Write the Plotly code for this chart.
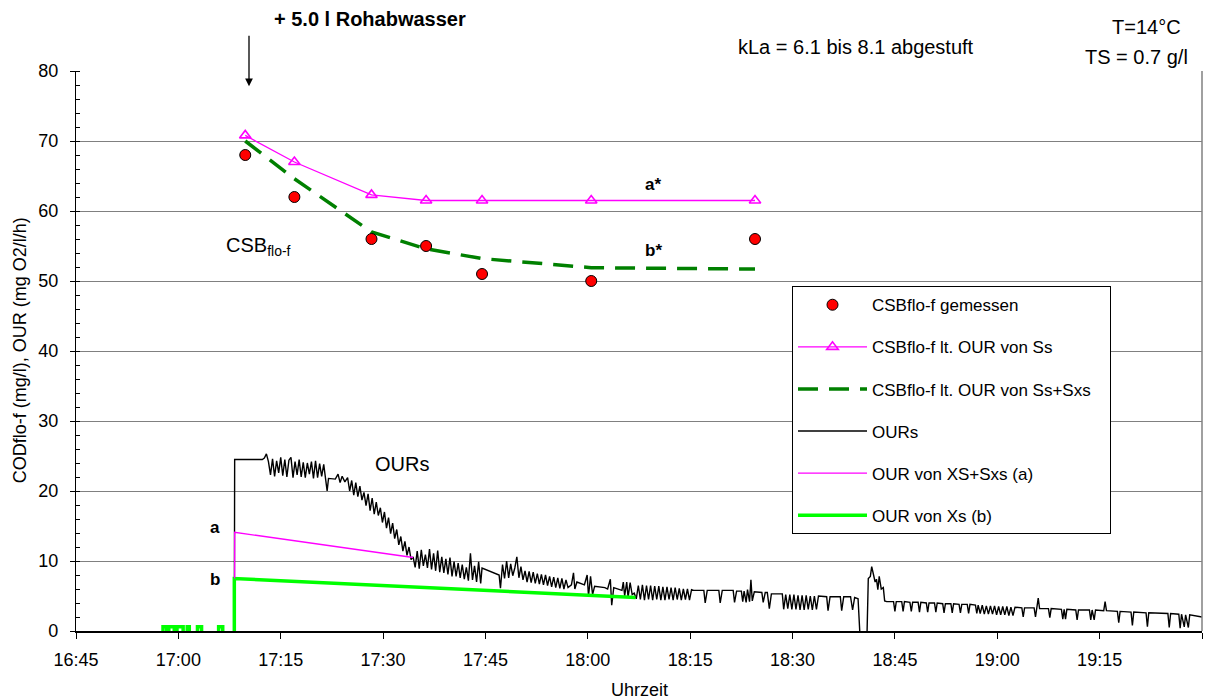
import plotly.graph_objects as go
import pandas as pd

# ---------------- data ----------------
# sample times of the CSB measurements (clock time)
csb_times = ["17:09:48", "17:17:00", "17:28:18", "17:36:18", "17:44:30", "18:00:30", "18:24:30"]
csb_measured = [68, 62, 56, 55, 51, 50, 56]
csb_ss = [70.8, 67.0, 62.3, 61.5, 61.5, 61.5, 61.5]
csb_ss_sxs = [70.0, 64.6, 57.0, 54.6, 53.2, 51.9, 51.7]

# OURs measured signal: minutes after 16:45 and value (mg O2/l/h)
our_min = [23.2, 23.25, 27.3, 27.6, 27.9, 28.2, 28.5, 28.8, 29.1, 29.4, 29.7, 30.0, 30.3, 30.6, 30.9,
           31.2, 31.5, 31.8, 32.1, 32.4, 32.7, 33.0, 33.3, 33.6, 33.9, 34.2, 34.5, 34.8, 35.1, 35.4,
           35.7, 36.0, 36.3, 36.6, 36.8, 37.0, 38.0, 38.4, 38.7, 39.0, 39.4, 39.8, 40.1, 40.4, 40.7,
           41.0, 41.3, 41.6, 41.9, 42.2, 42.5, 42.8, 43.1, 43.4, 43.7, 44.0, 44.3, 44.6, 44.9, 45.2,
           45.5, 45.8, 46.1, 46.4, 46.7, 47.0, 47.3, 47.6, 47.9, 48.2, 48.5, 48.8, 49.1, 49.4, 49.7,
           50.0, 50.3, 50.6, 50.9, 51.2, 51.5, 51.8, 52.1, 52.4, 52.7, 53.0, 53.3, 53.6, 53.9, 54.2,
           54.5, 54.8, 55.1, 55.4, 55.7, 56.0, 56.3, 56.6, 56.9, 57.2, 57.5, 57.8, 58.1, 58.4, 58.7,
           59.0, 59.3, 59.5, 62.0, 62.2, 62.5, 62.8, 63.1, 63.4, 63.7, 64.0, 64.3, 64.6, 64.9, 65.2,
           65.5, 65.8, 66.1, 66.4, 66.7, 67.0, 67.3, 67.6, 67.9, 68.2, 68.5, 68.8, 69.1, 69.4, 69.7,
           70.0, 70.3, 70.6, 70.9, 71.2, 71.5, 71.8, 72.1, 72.6, 72.9, 73.1, 73.4, 74.5, 74.9, 75.1,
           75.4, 75.7, 76.0, 77.5, 77.9, 78.3, 78.5, 78.8, 80.0, 80.2, 80.4, 80.7, 80.9, 81.2, 81.5,
           81.8, 82.1, 82.4, 82.7, 83.0, 83.3, 83.6, 83.9, 84.2, 84.5, 84.8, 85.1, 85.4, 85.7, 86.0,
           86.3, 86.6, 86.9, 87.2, 87.5, 87.8, 88.1, 88.4, 88.7, 89.0, 89.3, 89.6, 89.9, 90.2, 90.5,
           92.0, 92.2, 92.5, 94.2, 94.4, 94.7, 96.3, 96.5, 96.8, 97.5, 97.7, 97.9, 98.2, 98.4, 98.7,
           98.9, 99.1, 99.4, 100.5, 100.7, 101.0, 101.3, 101.6, 101.9, 103.5, 103.7, 104.0, 104.3, 104.6, 104.9,
           105.2, 105.5, 105.8, 106.1, 106.4, 106.7, 107.0, 107.3, 107.6, 107.9, 108.2, 108.5, 108.8, 110.0, 110.2,
           110.5, 112.0, 112.2, 112.5, 113.5, 113.8, 114.1, 114.6, 114.9, 115.5, 115.9, 116.1, 116.4, 116.6, 116.9,
           117.1, 117.3, 117.5, 117.7, 118.0, 118.3, 118.5, 118.8, 119.8, 120.0, 120.2, 121.0, 121.2, 121.4, 122.2,
           122.4, 122.6, 123.4, 123.6, 123.8, 124.6, 124.8, 125.0, 125.8, 126.0, 126.2, 127.0, 127.2, 127.4, 128.2,
           128.4, 128.6, 129.4, 129.6, 129.8, 130.6, 130.8, 131.0, 131.8, 132.0, 132.2, 132.5, 132.8, 133.1, 133.4,
           133.7, 134.0, 134.3, 134.6, 134.9, 135.2, 135.5, 135.8, 136.1, 136.4, 136.7, 137.0, 137.3, 137.6, 138.6,
           138.8, 139.0, 140.4, 140.6, 140.8, 141.0, 141.2, 142.5, 142.7, 142.9, 144.4, 144.6, 144.8, 145.0, 145.2,
           146.5, 146.7, 146.9, 148.5, 148.7, 148.9, 149.2, 149.4, 150.6, 150.8, 151.0, 152.6, 152.8, 153.0, 154.6,
           154.8, 155.0, 156.8, 157.0, 157.2, 160.0, 160.2, 160.4, 161.6, 161.8, 162.0, 162.4, 162.6, 163.0, 163.2,
           165.0]
our_val = [0.0, 24.5, 24.5, 24.7, 25.3, 24.2, 22.3, 24.6, 22.1, 24.3, 22.6, 24.8, 22.2, 24.5, 22.0,
           24.4, 24.8, 21.9, 24.2, 22.3, 24.5, 22.0, 24.1, 21.9, 24.0, 22.4, 24.2, 21.8, 24.3, 21.9,
           23.9, 22.1, 23.8, 21.8, 20.0, 21.8, 21.7, 22.4, 21.2, 22.1, 21.3, 21.9, 20.0, 21.5, 19.4,
           21.2, 19.2, 20.7, 18.7, 19.8, 17.9, 19.6, 17.2, 19.0, 16.7, 18.4, 16.5, 17.6, 15.5, 17.0,
           14.7, 16.2, 13.9, 15.4, 13.2, 14.5, 12.3, 13.5, 11.4, 12.8, 10.8, 12.0, 10.2, 10.6, 9.1,
           11.4, 8.9, 11.6, 9.3, 10.9, 9.0, 11.7, 8.8, 11.1, 8.6, 11.5, 8.4, 10.6, 8.3, 10.3,
           8.1, 10.5, 7.8, 9.9, 7.8, 9.7, 7.6, 9.5, 7.4, 9.1, 7.2, 11.1, 7.3, 9.3, 7.0,
           9.9, 6.8, 9.0, 8.0, 6.1, 9.5, 7.5, 10.0, 7.6, 9.6, 7.9, 9.0, 10.6, 7.6, 9.2,
           7.3, 8.6, 7.0, 8.5, 6.9, 8.4, 6.8, 8.2, 6.7, 8.1, 6.6, 8.0, 6.5, 7.8, 6.3,
           7.7, 6.2, 7.6, 6.1, 7.5, 6.0, 7.3, 6.2, 6.6, 8.3, 6.0, 7.0, 6.6, 8.0, 5.0,
           7.8, 5.2, 6.4, 6.2, 6.0, 7.4, 3.7, 6.2, 5.8, 7.0, 5.0, 7.0, 4.8, 6.9, 5.2,
           5.4, 4.6, 6.5, 4.5, 6.6, 4.4, 6.5, 4.5, 6.5, 4.4, 6.4, 4.5, 6.4, 4.4, 6.3,
           4.4, 6.3, 4.5, 6.2, 4.4, 6.2, 4.5, 6.1, 4.4, 6.0, 4.5, 6.0, 4.4, 5.9, 5.8,
           5.8, 4.0, 5.8, 5.8, 4.0, 5.8, 5.8, 4.1, 5.7, 5.7, 4.2, 5.7, 4.1, 5.9, 4.2,
           7.3, 4.3, 5.6, 5.5, 4.1, 5.5, 5.5, 3.2, 5.3, 5.3, 3.1, 5.2, 3.2, 5.2, 3.1,
           5.2, 3.1, 5.1, 3.0, 5.1, 3.0, 5.1, 3.1, 5.0, 3.0, 5.0, 3.1, 5.0, 4.9, 2.9,
           4.9, 4.9, 2.9, 4.9, 4.9, 3.0, 4.8, 4.6, -1.0, -1.0, -1.0, 7.5, 7.8, 9.2, 8.0,
           7.0, 7.4, 5.9, 7.8, 6.0, 6.2, 4.3, 4.2, 4.2, 2.8, 4.2, 4.2, 2.8, 4.2, 4.1,
           2.8, 4.1, 4.1, 2.7, 4.1, 4.0, 2.7, 4.0, 4.0, 2.7, 4.0, 3.9, 2.6, 3.9, 3.9,
           2.6, 3.9, 3.8, 2.6, 3.8, 3.8, 2.5, 3.8, 3.7, 2.5, 3.7, 2.5, 3.7, 2.4, 3.6,
           2.4, 3.6, 2.4, 3.6, 2.3, 3.5, 2.3, 3.5, 2.3, 3.5, 2.2, 3.4, 2.2, 3.4, 3.3,
           2.0, 3.3, 3.3, 2.0, 3.3, 4.7, 3.2, 3.2, 1.9, 3.2, 3.1, 1.7, 3.1, 1.7, 3.1,
           3.0, 1.6, 3.0, 3.0, 1.6, 3.0, 1.6, 3.0, 2.9, 4.2, 2.9, 2.8, 1.2, 2.8, 2.7,
           0.8, 2.7, 2.6, 0.6, 2.6, 2.5, 0.5, 2.5, 2.4, 0.4, 2.4, 0.6, 2.3, 0.5, 2.3,
           2.0]

# OUR von XS+Sxs (a): minutes after 16:45, value
our_a_min = [23.25, 23.25, 49.4]
our_a_val = [7.5, 14.1, 10.5]

# OUR von Xs (b): minutes after 16:45, value (None = gap)
our_b_min = [12.75, 12.75, 13.3, 13.3, None, 13.6, 13.6, 14.4, 14.4, None, 14.8, 14.8, 15.7, 15.7, None,
             16.3, 16.3, 16.6, 16.6, None, 17.8, 17.8, 18.4, 18.4, None, 20.9, 20.9, 21.5, 21.5, None,
             23.2, 23.2, 82.0]
our_b_val = [0, 0.6, 0.6, 0, None, 0, 0.6, 0.6, 0, None, 0, 0.6, 0.6, 0, None,
             0, 0.6, 0.6, 0, None, 0, 0.6, 0.6, 0, None, 0, 0.6, 0.6, 0, None,
             0, 7.5, 4.8]

x_start = "2000-01-01 16:45"
x_end = "2000-01-01 19:30"
y_ticks = [0, 10, 20, 30, 40, 50, 60, 70, 80]

# ---------------- helpers ----------------
BASE = pd.Timestamp(x_start)


def from_min(mins):
    return [None if m is None else BASE + pd.Timedelta(minutes=m) for m in mins]


csb_x = [pd.Timestamp("2000-01-01 " + t) for t in csb_times]

FONT = "Liberation Sans, Arial, sans-serif"
W, H = 1205, 699
X0, X1, Y0, Y1 = 76.0, 1202.0, 631.0, 70.7


def px(x):
    return (x - X0) / (X1 - X0)


def py(y):
    return (Y0 - y) / (Y0 - Y1)


NB = "\u00a0"
fig = go.Figure()

fig.add_trace(go.Scatter(x=from_min(our_min), y=our_val, mode="lines", name="OURs",
                         line=dict(color="black", width=1.4), legendrank=4, legendgroup="g4"))
fig.add_trace(go.Scatter(x=from_min(our_b_min), y=our_b_val, mode="lines", name="OUR von Xs (b)",
                         line=dict(color="#00FF00", width=3.5), legendrank=6, legendgroup="g6",
                         connectgaps=False))
fig.add_trace(go.Scatter(x=from_min(our_a_min), y=our_a_val, mode="lines", name="OUR von XS+Sxs (a)",
                         line=dict(color="#FF00FF", width=1.3), legendrank=5, legendgroup="g5"))
fig.add_trace(go.Scatter(x=csb_x, y=csb_ss_sxs, mode="lines",
                         name="CSBflo-f lt. OUR von Ss+Sxs" + NB * 3,
                         line=dict(color="#008000", width=3.5, dash="20px,11px"), legendrank=3,
                         legendgroup="g3"))
fig.add_trace(go.Scatter(x=csb_x, y=csb_ss, mode="lines+markers", name="CSBflo-f lt. OUR von Ss",
                         line=dict(color="#FF00FF", width=1.3),
                         marker=dict(symbol="triangle-up-open", size=10, color="#FF00FF",
                                     line=dict(width=1.6, color="#FF00FF")),
                         legendrank=2, legendgroup="g2"))
fig.add_trace(go.Scatter(x=csb_x, y=csb_measured, mode="markers", name="CSBflo-f gemessen",
                         marker=dict(symbol="circle", size=11, color="#FF0000",
                                     line=dict(width=1, color="black")),
                         legendrank=1, legendgroup="g1"))

ann = []


def text(x, y, s, size=20, bold=False, xanchor="center"):
    ann.append(dict(xref="paper", yref="paper", x=px(x), y=py(y), text=("<b>%s</b>" % s) if bold else s,
                    showarrow=False, xanchor=xanchor, yanchor="middle",
                    font=dict(family=FONT, size=size, color="black")))


text(370, 19, "+ 5.0 l Rohabwasser", size=20, bold=True)
text(856, 47, "kLa = 6.1 bis 8.1 abgestuft", size=20)
text(1183, 27, "T=14°C", size=20, xanchor="right")
text(1190, 57, "TS = 0.7 g/l", size=20, xanchor="right")
text(653, 184, "a*", size=17, bold=True)
text(653, 250, "b*", size=17, bold=True)
text(224, 246, "CSB<sub>flo-f</sub>", size=20, xanchor="left")
text(402, 464, "OURs", size=20)
text(215, 527, "a", size=17, bold=True)
text(215, 579, "b", size=17, bold=True)
text(639, 690, "Uhrzeit", size=18)
ann.append(dict(xref="paper", yref="paper", x=px(20), y=py(350), text="CODflo-f (mg/l), OUR (mg O2/l/h)",
                textangle=-90, showarrow=False, xanchor="center", yanchor="middle",
                font=dict(family=FONT, size=18, color="black")))
# arrow for the addition
ann.append(dict(xref="paper", yref="paper", x=px(249), y=py(86), ax=0, ay=-53, text=" ",
                showarrow=True, arrowhead=2, arrowsize=1.2, arrowwidth=1.3, arrowcolor="black",
                font=dict(size=2)))

fig.update_layout(
    width=W, height=H,
    margin=dict(l=X0, r=W - X1, t=Y1, b=H - Y0),
    paper_bgcolor="white", plot_bgcolor="white",
    font=dict(family=FONT, size=18, color="black"),
    showlegend=True,
    legend=dict(x=px(792), y=py(286), xanchor="left", yanchor="top",
                bgcolor="white", bordercolor="black", borderwidth=1,
                font=dict(family=FONT, size=17, color="black"),
                tracegroupgap=17, itemwidth=69, traceorder="grouped"),
    annotations=ann,
    shapes=[dict(type="line", xref="paper", yref="paper", x0=1, x1=1, y0=0, y1=1,
                 line=dict(color="#808080", width=1.5))],
)
fig.update_xaxes(type="date", range=[x_start, x_end], tickformat="%H:%M", dtick=900000, tick0=x_start,
                 showgrid=False, showline=True, linecolor="black", linewidth=1.5,
                 ticks="outside", ticklen=6, tickcolor="black", tickwidth=1,
                 tickfont=dict(family=FONT, size=18), ticklabelstandoff=6, zeroline=False)
fig.update_yaxes(range=[0, 80], tickvals=y_ticks, showgrid=True, gridcolor="#808080", gridwidth=1,
                 showline=True, linecolor="black", linewidth=1.2,
                 ticks="outside", ticklen=5, tickcolor="black",
                 minor=dict(dtick=2, ticks="inside", ticklen=4, tickcolor="black", showgrid=False),
                 tickfont=dict(family=FONT, size=18), ticklabelstandoff=8, zeroline=False)

fig.write_html("out.html")
